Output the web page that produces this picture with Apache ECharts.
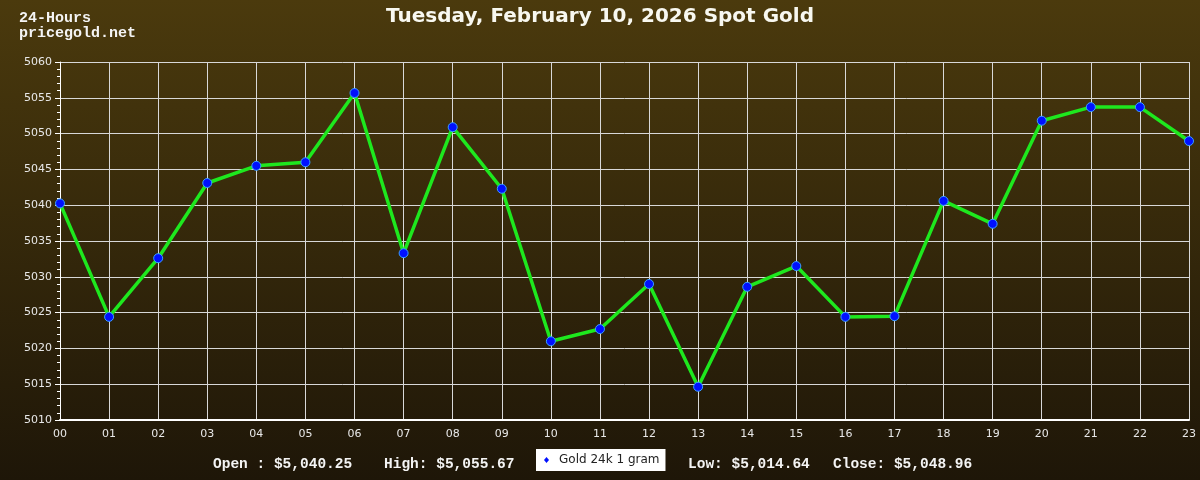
<!DOCTYPE html>
<html>
<head>
<meta charset="utf-8">
<script src="https://cdn.jsdelivr.net/npm/echarts@6/dist/echarts.min.js"></script>
<style>html,body{margin:0;padding:0;}#c{width:1200px;height:480px;}</style>
</head>
<body>
<div id="c"></div>
<script>
const hours = ['00','01','02','03','04','05','06','07','08','09','10','11','12','13','14','15','16','17','18','19','20','21','22','23'];
const goldPrices = [5040.25,5024.4,5032.6,5043.1,5045.5,5046.0,5055.67,5033.3,5050.9,5042.3,5021.0,5022.7,5029.0,5014.64,5028.6,5031.5,5024.4,5024.5,5040.6,5037.4,5051.8,5053.7,5053.7,5048.96];
const seriesName = 'Gold 24k 1 gram';
const titleText = 'Tuesday, February 10, 2026 Spot Gold';
const statOpen = 'Open : $5,040.25';
const statHigh = 'High: $5,055.67';
const statLow = 'Low: $5,014.64';
const statClose = 'Close: $5,048.96';

const chart = echarts.init(document.getElementById('c'), null, {renderer:'canvas'});
const mono = '"Liberation Mono", "DejaVu Sans Mono", monospace';
const statFont = 'bold 14.5px ' + mono;
chart.setOption({
  animation: false,
  backgroundColor: {
    type: 'linear', x: 0, y: 0, x2: 0, y2: 1,
    colorStops: [{offset: 0, color: '#4b3a0d'}, {offset: 1, color: '#1e1608'}]
  },
  title: {
    text: titleText, left: 'center', top: 2,
    textStyle: {color: '#f8f8f0', fontFamily: 'DejaVu Sans', fontWeight: 'bold', fontSize: 20}
  },
  legend: {
    data: [{name: seriesName, icon: 'diamond', itemStyle: {color: '#0010ff', borderWidth: 0}}],
    left: 536, top: 449,
    backgroundColor: '#ffffff',
    padding: [5, 6, 5, 8],
    itemWidth: 5, itemHeight: 6, itemGap: 10,
    textStyle: {color: '#222', fontFamily: 'DejaVu Sans', fontSize: 12, padding: [0, 0, 0, 5]}
  },
  graphic: [
    {type: 'text', left: 19, top: 11, style: {text: '24-Hours\npricegold.net', fill: '#f4f4f4', font: 'bold 15px ' + mono, lineHeight: 15}},
    {type: 'text', left: 213, top: 457, style: {text: statOpen, fill: '#f4f4f4', font: statFont}},
    {type: 'text', left: 384, top: 457, style: {text: statHigh, fill: '#f4f4f4', font: statFont}},
    {type: 'text', left: 688, top: 457, style: {text: statLow, fill: '#f4f4f4', font: statFont}},
    {type: 'text', left: 833, top: 457, style: {text: statClose, fill: '#f4f4f4', font: statFont}}
  ],
  grid: {left: 60, right: 11, top: 62, bottom: 60},
  xAxis: {
    type: 'category', data: hours, boundaryGap: false,
    axisLine: {lineStyle: {color: '#ffffff', width: 2}},
    axisTick: {show: false},
    axisLabel: {color: '#e8e8e8', fontFamily: 'DejaVu Sans', fontSize: 11, margin: 9},
    splitLine: {show: true, lineStyle: {color: '#d8d8d8', width: 1}}
  },
  yAxis: {
    type: 'value', min: 5010, max: 5060, interval: 5,
    axisLine: {show: true, lineStyle: {color: '#ffffff', width: 1}},
    axisTick: {show: true, length: 5, lineStyle: {color: '#ffffff'}},
    minorTick: {show: true, splitNumber: 5, length: 3, lineStyle: {color: '#ffffff'}},
    axisLabel: {color: '#e8e8e8', fontFamily: 'DejaVu Sans', fontSize: 11, margin: 8, formatter: v => String(v)},
    splitLine: {show: true, lineStyle: {color: '#d8d8d8', width: 1}}
  },
  series: [{
    name: seriesName, type: 'line', data: goldPrices,
    symbol: 'circle', symbolSize: 9,
    lineStyle: {color: '#1ee81e', width: 3.5},
    itemStyle: {color: '#0010ff', borderColor: '#3aa0ff', borderWidth: 1}
  }]
});
</script>
</body>
</html>
